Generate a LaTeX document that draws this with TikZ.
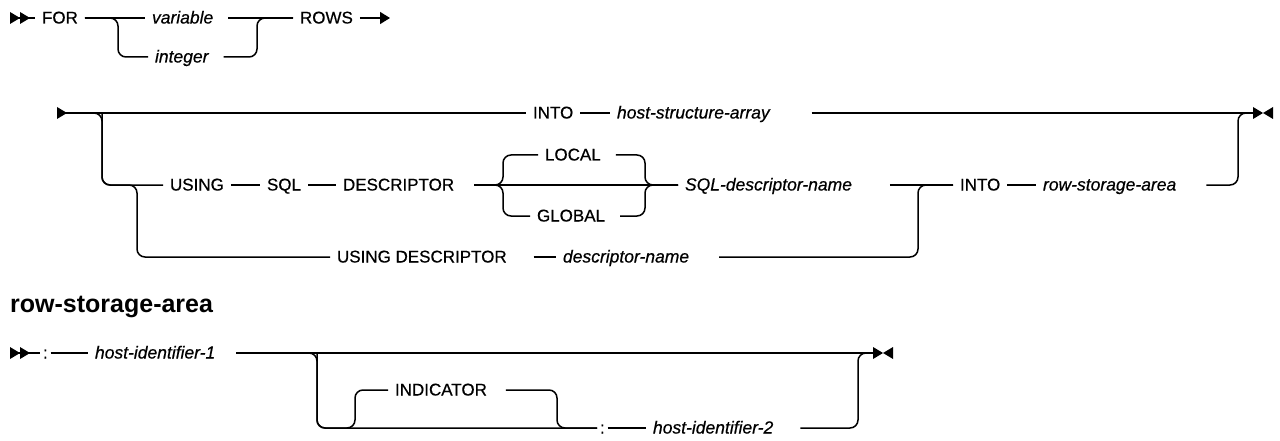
\documentclass[tikz,border=0pt]{standalone}
\usepackage{fontspec}
\setmainfont{Liberation Sans}
\newfontfamily\railfont{Liberation Sans}[FakeBold=0.5]
\usepackage{tikz}
\usetikzlibrary{arrows.meta}

\begin{document}
\begin{tikzpicture}[
  x=1pt,
  y=-1pt,
  rail/.style={line width=1.5pt,rounded corners=8pt},
  kw/.style={
    anchor=west,inner xsep=0pt,inner ysep=0pt,outer xsep=7pt,xshift=-7pt,
    text height=13pt,text depth=2pt,font=\railfont\fontsize{17}{20}\selectfont
  },
  var/.style={kw,font=\railfont\fontsize{17.5}{20}\selectfont\itshape},
  colon/.style={kw,outer xsep=3pt,xshift=-3pt},
  heading/.style={anchor=west,inner sep=0pt,font=\fontsize{25}{28}\selectfont\bfseries},
  startmark/.pic={
    \fill (0,-6) -- (10,0) -- (0,6) -- cycle;
    \fill (10,-6) -- (20,0) -- (10,6) -- cycle;
  },
  contmark/.pic={
    \fill (0,-6) -- (10,0) -- (0,6) -- cycle;
  },
  endmark/.pic={
    \fill (0,-6) -- (10,0) -- (0,6) -- cycle;
    \fill (20,-6) -- (10,0) -- (20,6) -- cycle;
  }
]
  \useasboundingbox (0,0) rectangle (1280,441);

  % FOR ... ROWS
  \coordinate (r1s) at (10,18);
  \coordinate (r1a) at (118,18);
  \coordinate (r1b) at (257,18);
  \coordinate (r1e) at (390,18);
  \node[kw] (for) at (42,18) {FOR};
  \node[var] (var) at (152,18) {variable};
  \node[var] (int) at (155,57) {integer};
  \node[kw] (rows) at (300,18) {ROWS};
  \draw[rail] (r1s) -- (for.west);
  \draw[rail] (for.east) -- (var.west);
  \draw[rail] (for.east) -- (r1a) |- (int.west);
  \draw[rail] ([xshift=8pt]var.east) -- (rows.west);
  \draw[rail] ([xshift=8pt]int.east) -| (r1b) -- (rows.west);
  \draw[rail,-{Triangle[length=10pt,width=12pt]}] (rows.east) -- (r1e);
  \pic at (r1s) {startmark};

  % INTO / USING ... INTO row-storage-area
  \coordinate (r2s) at (57,113);
  \coordinate (b1) at (102,113);
  \coordinate (b2) at (137,185);
  \coordinate (b3) at (503,185);
  \coordinate (m1) at (645,185);
  \coordinate (m2) at (918,185);
  \coordinate (e2) at (1238,113);
  \coordinate (r2e) at (1253,113);
  \node[kw] (into1) at (533,113) {INTO};
  \node[var] (hsa) at (617,113) {host-structure-array};
  \node[kw] (using) at (170,185) {USING};
  \node[kw] (sql) at (267,185) {SQL};
  \node[kw] (desc) at (343,185) {DESCRIPTOR};
  \node[kw] (local) at (545,155) {LOCAL};
  \node[kw] (global) at (537,216) {GLOBAL};
  \node[var] (sqldn) at (685,185) {SQL-descriptor-name};
  \node[kw] (usingdesc) at (337,257) {USING DESCRIPTOR};
  \node[var] (dn) at (563,257) {descriptor-name};
  \node[kw] (into2) at (960,185) {INTO};
  \node[var] (rsa) at (1043,185) {row-storage-area};
  \draw[rail] (r2s) -- (into1.west);
  \draw[rail] (into1.east) -- (hsa.west);
  \draw[rail] ([xshift=35pt]hsa.east) -- (r2e);
  \draw[rail] (r2s) -- (b1) |- (using.west);
  \draw[rail] (b1) |- (b2) |- (usingdesc.west);
  \draw[rail] (using.east) -- (sql.west);
  \draw[rail] (sql.east) -- (desc.west);
  \draw[rail] ([xshift=13pt]desc.east) -- (sqldn.west);
  \draw[rail] ([xshift=13pt]desc.east) -- (b3) |- (local.west);
  \draw[rail] ([xshift=13pt]desc.east) -- (b3) |- (global.west);
  \draw[rail] ([xshift=8pt]local.east) -| (m1) -- (sqldn.west);
  \draw[rail] ([xshift=8pt]global.east) -| (m1) -- (sqldn.west);
  \draw[rail] ([xshift=31pt]sqldn.east) -- (into2.west);
  \draw[rail] ([xshift=20pt]usingdesc.east) -- (dn.west);
  \draw[rail] ([xshift=23pt]dn.east) -| (m2) -- (into2.west);
  \draw[rail] (into2.east) -- (rsa.west);
  \draw[rail] ([xshift=23pt]rsa.east) -| (e2) -- (r2e);
  \pic at (r2s) {contmark};
  \pic at (r2e) {endmark};

  % row-storage-area
  \node[heading] (title) at (10,307) {row-storage-area};
  \coordinate (r3s) at (10,353);
  \coordinate (b4) at (317,353);
  \coordinate (b5) at (355,428);
  \coordinate (m3) at (557,428);
  \coordinate (e3) at (858,353);
  \coordinate (r3e) at (873,353);
  \node[colon] (colon1) at (50,353) {:};
  \node[var] (hid1) at (95,353) {host-identifier-1};
  \node[kw] (ind) at (395,390) {INDICATOR};
  \node[colon] (colon2) at (607,428) {:};
  \node[var] (hid2) at (653,428) {host-identifier-2};
  \draw[rail] (r3s) -- (colon1.west);
  \draw[rail] (colon1.east) -- (hid1.west);
  \draw[rail] ([xshift=14pt]hid1.east) -- (r3e);
  \draw[rail] ([xshift=14pt]hid1.east) -- (b4) |- (colon2.west);
  \draw[rail] (b4) |- (b5) |- (ind.west);
  \draw[rail] ([xshift=12pt]ind.east) -| (m3) -- (colon2.west);
  \draw[rail] (colon2.east) -- (hid2.west);
  \draw[rail] ([xshift=20pt]hid2.east) -| (e3) -- (r3e);
  \pic at (r3s) {startmark};
  \pic at (r3e) {endmark};
\end{tikzpicture}
\end{document}
